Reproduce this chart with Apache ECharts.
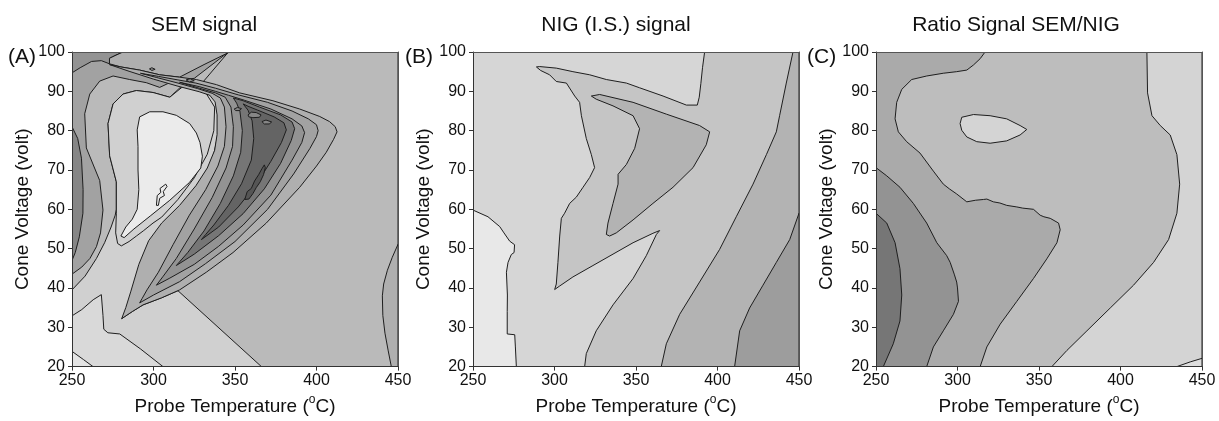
<!DOCTYPE html>
<html>
<head>
<meta charset="utf-8">
<script src="https://cdn.jsdelivr.net/npm/echarts@6/dist/echarts.min.js"></script>
<style>
  html, body { margin: 0; padding: 0; background: #ffffff; }
  #chart { width: 1219px; height: 421px; }
</style>
</head>
<body>
<div id="chart"></div>
<script>
// ---- axes ----
const temperatureTicks = [250, 300, 350, 400, 450];
const voltageTicks = [20, 30, 40, 50, 60, 70, 80, 90, 100];
const panelTitles = ['SEM signal', 'NIG (I.S.) signal', 'Ratio Signal SEM/NIG'];
const panelTags = ['(A)', '(B)', '(C)'];

// ---- (A) SEM signal: filled contour regions, [temperature, voltage] vertices ----
const semFrame = [[250,20],[450,20],[450,100],[250,100]];
const semRightLobe = [[450,51.1],[446.5,47.8],[443.5,44.5],[441.2,41],[440.4,38],[440.7,33],[442,28.5],[444,24],[445.9,20],[450,20]];
const semLowerLeft = [[250,20],[366.2,20],[315,39.3],[305,37.5],[293.6,35.7],[287,34],[280.5,32.2],[287,36],[293,42],[298,50],[305,55],[320,62],[336,72],[340,80],[339.5,88],[325,91],[300,93.6],[280,95.8],[250,80]];
const semPocket = [[250,20],[305.8,20],[292,24.5],[279.3,28.3],[272,28.6],[269.5,29.5],[269,33],[268,38.3],[263,37],[256,34.5],[250,32.9]];
const semCorner = [[250,20],[262.9,20],[257,21.8],[250.6,23.7],[250,24]];
const semMidBand = [[250,39.5],[258,43],[265,47.5],[270,51.5],[274,55.5],[276.5,58.5],[277.2,60],[277.2,67],[273.1,73.6],[272.1,81.8],[275.2,86.8],[281.3,89.3],[289.5,90.2],[299.7,89.7],[310,88.5],[318,91.6],[330,92.2],[346,100],[250,100]];
const semUpperBand = [[250,43.5],[256,45.3],[261,47.5],[265,50.5],[267.5,54],[269,59.8],[267,67.3],[258.8,75.6],[257.8,84.3],[260.9,89.3],[267,92.6],[275.2,93.9],[285.4,93],[295.6,92.2],[303.8,91],[312,92.6],[325,93.3],[346,100],[250,100]];
const semTopCorner = [[250,94.7],[255,96],[262,97.6],[268,97.8],[273,97],[273,98.4],[277,99.2],[281.3,100],[250,100]];
const semTopStrip = [[273,98.4],[277,99.2],[281.3,100],[346.7,100],[331,96.8],[316,93.6],[303.8,94.2],[291.5,95.4],[280,96.2],[273,97]];
const semLeftLobe = [[250,81],[253.5,78],[255.8,73],[256.8,65],[256.7,59],[254.5,53],[252,49],[250,47]];
const semInterior = [[310,88.5],[299.7,89.7],[289.5,90.2],[281.3,89.3],[275.2,86.8],[272.1,81.8],[273.1,73.6],[277.2,67],[277.2,59],[276.8,54],[278,51.3],[280.3,50.7],[285,51.8],[289.5,53.2],[294,54.6],[299.7,56.5],[305,58],[315,62.5],[325,68],[333,74],[337,80],[337.5,86],[330,91],[318,91.2]];
const semCore = [[290.5,76],[290,80.2],[291.5,83.5],[297.7,84.8],[305.8,84.8],[314,83.9],[322.2,81.8],[326.3,79.4],[328.5,77],[330,73.5],[329,70.5],[322,66.8],[310,62.3],[298,58.3],[288,55],[282,52.8],[280,53.2],[283,55.5],[287,57.5],[290,60],[291,65],[290.5,70]];
const semSliver = [[301.8,61],[302.3,63.5],[304.5,64.3],[304,65.3],[307.5,66.4],[308.3,65.8],[306,64.5],[306.7,63.5],[303.8,62.8],[303,61]];
const semRidge1 = [[280.5,32.2],[287,34],[293.6,35.7],[305,37.5],[316,39.5],[332.4,44],[348.8,49],[369.2,56.5],[389.7,65.6],[400,71],[406,74.5],[410.5,77.8],[412.6,79.7],[411.5,81],[408,82.3],[402,83.6],[389.7,85.5],[373.3,87.6],[352.9,89.6],[338.6,91.7],[326.3,93],[316,93.6],[303.8,94.2],[291.5,95.4],[280,96.2],[273,96.8],[285,95.1],[300,93.1],[315,91.3],[328,89.9],[334.5,89],[337.8,87.3],[339,84],[339,79],[337.5,75],[333,70.5],[326,66],[316,61],[305,56.5],[297,52],[291,46],[286,39],[283,35]];
const semRidge2 = [[291.5,36.2],[300,38.2],[316,41.6],[332,46.2],[350,51.8],[370,60],[386,69],[396,75.5],[400,78.5],[401,80],[400,81.5],[395,83],[385,85],[370,87.2],[352,89.1],[338,90.8],[326,92.1],[315,92.9],[303,93.8],[292,94.6],[302,93.5],[315,92.1],[327,90.7],[336,89.5],[341,88.3],[343.5,86],[344.5,81],[343.5,76],[339.5,71],[332,65],[322,58.5],[312,51],[303,44],[296,39.5],[293,37.3]];
const semRidge3 = [[301.8,40.7],[310,42.5],[325,46],[340,50.6],[355,56],[372,63.6],[385,72.5],[391,77],[392.7,79.5],[391,81.2],[385,83],[372,85.5],[356,87.7],[346,89],[338,90],[328,91.2],[316,92.3],[328,90.8],[338,89.6],[344,88.5],[347.5,86],[349,81],[348.5,76],[344.5,70.5],[336,63],[325,55],[314,47.5],[306,43]];
const semRidge4 = [[314,45.7],[325,48.6],[340,53.3],[355,58.9],[368,65.2],[378,71.7],[384.5,77.5],[386.6,80.5],[385,82.2],[378,84],[365,86],[355,87.6],[349,88.3],[351,87],[353,85],[354.5,80],[353.5,74.5],[349,68.5],[341,61.5],[331,54.5],[321,49]];
const semRidge5 = [[329.4,52.3],[340,55.5],[352,60.6],[363,66.3],[372,72.2],[378.5,77],[381.5,80.2],[380,82],[374,83.5],[364,85.2],[358,86.2],[355,86.8],[358,85.2],[360.5,82.5],[361.5,78],[360,72.5],[354,66.5],[346,61],[337,56],[332,53.6]];
const semPeak = [[356,62.5],[357.5,64.5],[360,65.3],[362,67.2],[364.5,68.8],[366.5,70.3],[368,71.3],[368.6,70.6],[367.5,68.8],[365.5,67],[363,65.5],[361,64],[358.5,62.6]];
const semSpot1 = [[349.5,85.5],[351.5,85.9],[354,85.6],[352.5,85.1],[350.5,85.1]];
const semSpot2 = [[358,84],[360,84.7],[363,84.6],[366,84],[365,83.4],[361,83.3],[358.5,83.5]];
const semSpot3 = [[366.5,82.3],[369,82.7],[372.5,82.2],[371,81.7],[368,81.7]];
const semSpot4 = [[297.5,95.7],[299,96],[301,95.6],[299,95.3]];
const semSpot5 = [[320,92.9],[322.5,93.2],[325,92.7],[322,92.4]];

const semShapes = [semFrame, semRightLobe, semLowerLeft, semPocket, semCorner, semMidBand, semUpperBand,
  semTopCorner, semTopStrip, semLeftLobe, semInterior, semCore, semSliver,
  semRidge1, semRidge2, semRidge3, semRidge4, semRidge5, semPeak, semSpot1, semSpot2, semSpot3, semSpot4, semSpot5];
const semLevels = [5, 6, 3, 2, 1, 5, 7, 8, 6, 9, 3, 0, 0, 6, 7, 8, 10, 11, 12, 9, 9, 9, 8, 8];

// ---- (B) NIG (I.S.) signal ----
const nigFrame = [[250,20],[450,20],[450,100],[250,100]];
const nigLowerLeft = [[250,20],[276.6,20],[276,25],[275.6,28.1],[271,28.3],[271,34],[271.1,38.2],[270.5,44],[271.5,46.5],[273.5,48.5],[275.2,49],[275.5,51],[272.5,51.9],[269,54],[266.4,55.6],[259.2,58.1],[250,59.8]];
const nigBand1 = [[318.5,20],[319.5,23.3],[325.6,29.1],[335.9,35.7],[348.2,42.4],[356.3,48.2],[362.5,53.6],[364.5,54.6],[360.4,53.9],[348.2,51.5],[335.9,48.6],[323.6,45.7],[311.3,42.8],[303.2,40.5],[300.1,39.6],[301.1,41],[302.1,46.5],[303.2,53.2],[304.2,57.7],[306.2,59],[309.3,61.5],[313.4,63.1],[317.5,65.6],[321.6,68.1],[324.6,70.6],[322.6,73.9],[319.5,78],[316.5,83.8],[315.4,87.2],[312.4,88.8],[307.3,92.1],[301.1,92.5],[297,94.2],[291.5,95.3],[288.9,96.2],[290.9,96.3],[301.1,95.9],[311.3,95],[321.6,94.2],[331.8,93],[344.1,92.1],[352.2,90.9],[366.6,88.8],[380.9,86.5],[387.6,86.5],[388.8,88.5],[389.8,92],[390.8,96],[392.1,100],[450,100],[450,20]];
const nigInner = [[322.6,88.8],[327.7,89.2],[348.2,87.2],[368.6,84.2],[389,81.3],[395.2,79.7],[393.1,76.4],[385,70.6],[372.7,65.6],[360.4,61.5],[348.2,57.3],[337.9,54],[333.8,53.2],[331.8,53.6],[332.8,56.5],[335.9,61.5],[339,66.4],[339,68.9],[344.1,71.4],[349.2,75.5],[352.2,80.5],[348.2,83.8],[335.9,86.3],[325.6,88]];
const nigBand2 = [[365.5,20],[368.6,25.8],[376.8,33.3],[389,41.5],[401.3,49.8],[411.5,58.1],[421.8,66.4],[430,73.9],[436.1,79.7],[438.1,83.8],[442.2,92.1],[446.3,100],[450,100],[450,20]];
const nigBand3 = [[410.5,20],[413.6,29.1],[419.7,34.9],[427.9,40.7],[436.1,46.5],[444.3,52.3],[450,59],[450,20]];

const nigShapes = [nigFrame, nigLowerLeft, nigBand1, nigInner, nigBand2, nigBand3];
const nigLevels = [1, 0, 2, 3, 3, 4];

// ---- (C) Ratio signal SEM/NIG ----
const ratioFrame = [[250,20],[450,20],[450,100],[250,100]];
const ratioCorner = [[434.6,20],[442.8,21.2],[450,22.1],[450,20]];
const ratioMiddle = [[250,20],[357.9,20],[367.1,24.1],[379.4,29.1],[393.7,34.9],[408,40.7],[420.3,46.5],[429.5,52.3],[434.6,59],[436.3,66.4],[434.6,73.9],[430.5,78.9],[424.4,81.3],[419.3,83.8],[416.6,89.6],[416.2,100],[250,100]];
const ratioIsland = [[302.6,83.4],[309.8,84.1],[320,83.8],[330.2,83],[338.4,81.3],[342.5,80.3],[338.4,78.9],[330.2,77.4],[320,76.8],[311.8,77.2],[305.7,78.4],[302.6,80.1],[301.6,81.8]];
const ratioLeft = [[250,20],[313.9,20],[318,25],[326.2,30.8],[336.4,36.6],[346.6,42.4],[354.8,47.4],[361,51.5],[363,54.8],[362,56.5],[356.9,57.7],[353,58.1],[350.7,58.5],[346.6,60],[340,60.3],[336.4,60.6],[330.2,61],[326,61.6],[322,61.9],[318,62.6],[315.9,62.5],[311,62.3],[305.7,61.9],[299.5,63.9],[295,65.2],[291.3,66.4],[285.2,69.7],[277,74.3],[268.8,77.2],[263.7,79.7],[261.7,83],[262.7,87.2],[265.8,90.5],[271.9,93],[281.1,93.9],[291.3,94.6],[299.5,95],[305.7,95.4],[309.8,96.7],[313.9,98.3],[316.9,100],[250,100]];
const ratioLobe = [[250,20],[281.1,20],[285.2,25],[291.3,29.1],[297.5,33.3],[300.6,36.6],[300,40],[299.5,41.5],[298,43.5],[295.5,46.5],[293.4,48.2],[287.3,51.5],[285.2,53.2],[281.1,56.5],[272.9,61.5],[264.7,65.6],[256.6,68.5],[250,70.6]];
const ratioCoreLobe = [[250,20],[254.5,20],[260.6,25.8],[264.7,31.6],[265.8,38.2],[264.7,44.9],[261.7,51.5],[256.6,56.5],[250,59]];

const ratioShapes = [ratioFrame, ratioCorner, ratioMiddle, ratioIsland, ratioLeft, ratioLobe, ratioCoreLobe];
const ratioLevels = [1, 0, 2, 1, 3, 4, 5];

// ---- shading ramps (light to dark) ----
const semGreys = ['#ebebeb','#e4e4e4','#d9d9d9','#d0d0d0','#c4c4c4','#bababa','#afafaf','#a2a2a2','#939393','#868686','#767676','#646464','#555555'];
const nigGreys = ['#e8e8e8','#d6d6d6','#c5c5c5','#b3b3b3','#9d9d9d'];
const ratioGreys = ['#dedede','#d4d4d4','#bdbdbd','#aaaaaa','#939393','#767676'];

const FONT = '"Liberation Sans", Arial, Helvetica, sans-serif';
const TEXT = '#111111';
const grids = [
  { left: 72, top: 52, width: 326, height: 321 },
  { left: 473, top: 52, width: 326, height: 321 },
  { left: 876, top: 52, width: 326, height: 321 }
];

function contourSeries(idx, shapes, levels, greys) {
  return {
    type: 'custom',
    coordinateSystem: 'cartesian2d',
    xAxisIndex: idx * 2,
    yAxisIndex: idx * 2,
    clip: true,
    silent: true,
    animation: false,
    data: shapes.map(s => s[0]),
    renderItem: function (params, api) {
      const i = params.dataIndex;
      const pts = shapes[i].map(p => api.coord(p));
      return {
        type: 'polygon',
        z2: i,
        shape: { points: pts },
        style: { fill: greys[levels[i]], stroke: '#1e1e1e', lineWidth: 1 }
      };
    }
  };
}

const xAxes = [], yAxes = [];
grids.forEach((g, i) => {
  xAxes.push({
    type: 'value', gridIndex: i, min: 250, max: 450, interval: 50, z: 10,
    name: '{t|Probe Temperature (}{s|o}{t|C)}',
    nameLocation: 'middle', nameGap: 19,
    nameTextStyle: { rich: {
      t: { fontSize: 19, fontFamily: FONT, color: TEXT, lineHeight: 26 },
      s: { fontSize: 12, fontFamily: FONT, color: TEXT, verticalAlign: 'top', lineHeight: 12 }
    } },
    axisLine: { show: true, lineStyle: { color: '#333', width: 1 } },
    axisTick: { show: true, length: 4, lineStyle: { color: '#333' } },
    axisLabel: { fontSize: 16, fontFamily: FONT, color: TEXT, margin: 6 },
    splitLine: { show: false }
  });
  xAxes.push({
    type: 'value', gridIndex: i, min: 250, max: 450, position: 'top', z: 10,
    axisLine: { show: true, lineStyle: { color: '#555', width: 1 } },
    axisTick: { show: false }, axisLabel: { show: false }, splitLine: { show: false }
  });
  yAxes.push({
    type: 'value', gridIndex: i, min: 20, max: 100, interval: 10, z: 10,
    name: 'Cone Voltage (volt)', nameLocation: 'middle', nameGap: 40, nameRotate: 90,
    nameTextStyle: { fontSize: 19, fontFamily: FONT, color: TEXT },
    axisLine: { show: true, lineStyle: { color: '#333', width: 1 } },
    axisTick: { show: true, length: 4, lineStyle: { color: '#333' } },
    axisLabel: { fontSize: 16, fontFamily: FONT, color: TEXT, margin: 7 },
    splitLine: { show: false }
  });
  yAxes.push({
    type: 'value', gridIndex: i, min: 20, max: 100, position: 'right', z: 10,
    axisLine: { show: true, lineStyle: { color: '#555', width: 1 } },
    axisTick: { show: false }, axisLabel: { show: false }, splitLine: { show: false }
  });
});

const titleX = [204, 616, 1016];
const tagX = [8, 405, 807];
const graphics = [];
panelTitles.forEach((t, i) => graphics.push({
  type: 'text', x: titleX[i], y: 15, silent: true,
  style: { text: t, fontSize: 21, fontFamily: FONT, fill: TEXT, align: 'center', verticalAlign: 'top' }
}));
panelTags.forEach((t, i) => graphics.push({
  type: 'text', x: tagX[i], y: 47, silent: true,
  style: { text: t, fontSize: 21, fontFamily: FONT, fill: TEXT, align: 'left', verticalAlign: 'top' }
}));

const chart = echarts.init(document.getElementById('chart'), null, { renderer: 'canvas' });
chart.setOption({
  animation: false,
  backgroundColor: '#ffffff',
  grid: grids,
  xAxis: xAxes,
  yAxis: yAxes,
  graphic: graphics,
  series: [
    contourSeries(0, semShapes, semLevels, semGreys),
    contourSeries(1, nigShapes, nigLevels, nigGreys),
    contourSeries(2, ratioShapes, ratioLevels, ratioGreys)
  ]
});
</script>
</body>
</html>
